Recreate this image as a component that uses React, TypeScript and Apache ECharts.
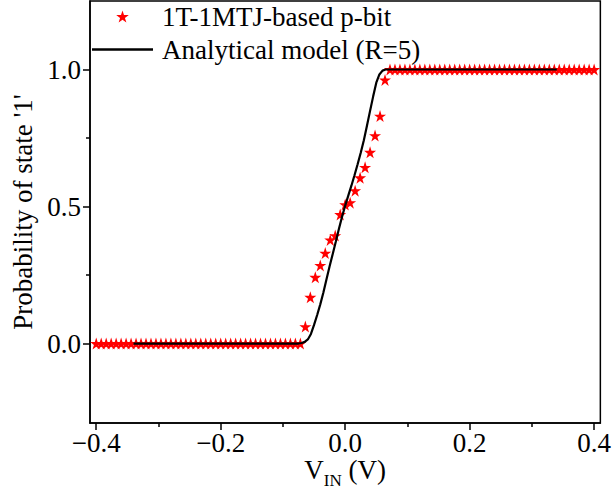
import React, { useEffect, useRef } from "react";
import * as echarts from "echarts";

// Simulated 1T-1MTJ p-bit data (V_IN in volts, probability of state '1')
const vIn = [
  -0.4, -0.392, -0.384, -0.376, -0.368, -0.36, -0.352, -0.344, -0.336, -0.328,
  -0.32, -0.312, -0.304, -0.296, -0.288, -0.28, -0.272, -0.264, -0.256, -0.248,
  -0.24, -0.232, -0.224, -0.216, -0.208, -0.2, -0.192, -0.184, -0.176, -0.168,
  -0.16, -0.152, -0.144, -0.136, -0.128, -0.12, -0.112, -0.104, -0.096, -0.088,
  -0.08, -0.072, -0.064, -0.056, -0.048, -0.04, -0.032, -0.024, -0.016, -0.008,
  0, 0.008, 0.016, 0.024, 0.032, 0.04, 0.048, 0.056, 0.064, 0.072,
  0.08, 0.088, 0.096, 0.104, 0.112, 0.12, 0.128, 0.136, 0.144, 0.152,
  0.16, 0.168, 0.176, 0.184, 0.192, 0.2, 0.208, 0.216, 0.224, 0.232,
  0.24, 0.248, 0.256, 0.264, 0.272, 0.28, 0.288, 0.296, 0.304, 0.312,
  0.32, 0.328, 0.336, 0.344, 0.352, 0.36, 0.368, 0.376, 0.384, 0.392,
  0.4,
];
const pBit = [
  0, 0, 0, 0, 0, 0, 0, 0, 0, 0,
  0, 0, 0, 0, 0, 0, 0, 0, 0, 0,
  0, 0, 0, 0, 0, 0, 0, 0, 0, 0,
  0, 0, 0, 0, 0, 0, 0, 0, 0, 0,
  0, 0, 0.062, 0.169, 0.242, 0.285, 0.33, 0.378, 0.394, 0.471,
  0.507, 0.514, 0.558, 0.605, 0.643, 0.698, 0.759, 0.83, 0.962, 1,
  1, 1, 1, 1, 1, 1, 1, 1, 1, 1,
  1, 1, 1, 1, 1, 1, 1, 1, 1, 1,
  1, 1, 1, 1, 1, 1, 1, 1, 1, 1,
  1, 1, 1, 1, 1, 1, 1, 1, 1, 1,
  1,
];

// Analytical model (R=5)
const vModel = [
  -0.34, -0.08, -0.075, -0.07, -0.065, -0.06, -0.055, -0.05, -0.045, -0.04,
  -0.035, -0.03, -0.025, -0.02, -0.015, -0.01, -0.005, 0, 0.005, 0.01,
  0.015, 0.02, 0.025, 0.03, 0.035, 0.04, 0.045, 0.05, 0.055, 0.06,
  0.065, 0.07, 0.34,
];
const pModel = [
  0, 0, 0, 0.002, 0.006, 0.015, 0.035, 0.068, 0.104, 0.143,
  0.186, 0.235, 0.282, 0.327, 0.372, 0.419, 0.463, 0.503, 0.54, 0.576,
  0.614, 0.654, 0.696, 0.742, 0.795, 0.849, 0.902, 0.952, 0.982, 0.996,
  1, 1, 1,
];

const xMajorTicks = [-0.4, -0.2, 0, 0.2, 0.4];
const xMinorTicks = [-0.3, -0.1, 0.1, 0.3];
const yMajorTicks = [0, 0.5, 1.0];
const yMinorTicks = [0.25, 0.75];

const seriesNames = ["1T-1MTJ-based p-bit", "Analytical model (R=5)"];

const STAR =
  "path://M50,0L61.23,34.55L97.55,34.55L68.17,55.9L79.39,90.45L50,69.1L20.61,90.45L31.83,55.9L2.45,34.55L38.77,34.55Z";
const LINE_ICON = "path://M0,0L100,0L100,4L0,4Z";

const FONT = "'Liberation Serif', 'Times New Roman', serif";
const FS = 27;

function fmt(v: number) {
  return v.toFixed(1).replace("-", "\u2212");
}

export default function App() {
  const ref = useRef<HTMLDivElement>(null);
  useEffect(() => {
    const chart = echarts.init(ref.current!, null, { renderer: "svg" });
    const axisLine = { color: "#000", width: 1.5 };
    const option: any = {
      animation: false,
      backgroundColor: "#fff",
      textStyle: { fontFamily: FONT, color: "#000" },
      grid: {
        left: 90,
        right: 11,
        top: 1,
        bottom: 81,
        show: true,
        borderColor: "#000",
        borderWidth: 1.5,
        backgroundColor: "transparent",
      },
      legend: {
        orient: "vertical",
        left: 92,
        top: 0,
        padding: 0,
        itemWidth: 61,
        itemHeight: 12,
        itemGap: 0,
        selectedMode: false,
        textStyle: {
          fontFamily: FONT,
          fontSize: FS,
          color: "#000",
          lineHeight: 33,
          padding: [0, 0, 0, 4],
        },
        data: [
          { name: seriesNames[0], icon: STAR, itemStyle: { color: "#ff0000", opacity: 1 } },
          { name: seriesNames[1], icon: LINE_ICON, itemStyle: { color: "#000", opacity: 1 } },
        ],
      },
      xAxis: [
        {
          type: "value",
          min: -0.41,
          max: 0.41,
          position: "bottom",
          axisLine: { show: true, onZero: false, lineStyle: axisLine },
          axisTick: {
            show: true,
            inside: false,
            length: 7,
            customValues: xMajorTicks,
            lineStyle: axisLine,
          },
          axisLabel: {
            customValues: xMajorTicks,
            formatter: fmt,
            fontFamily: FONT,
            fontSize: FS,
            color: "#000",
            margin: 6,
          },
          splitLine: { show: false },
          name: "{v|V}{s|IN}{v| (V)}",
          nameLocation: "middle",
          nameGap: 32,
          nameMoveOverlap: false,
          nameTextStyle: {
            rich: {
              v: { fontFamily: FONT, fontSize: FS, color: "#000", lineHeight: 30 },
              s: {
                fontFamily: FONT,
                fontSize: 17,
                color: "#000",
                lineHeight: 17,
                verticalAlign: "bottom",
                padding: [0, 0, -4, 0],
              },
            },
          },
        },
        {
          type: "value",
          min: -0.41,
          max: 0.41,
          position: "bottom",
          axisLine: { show: false, onZero: false },
          axisTick: {
            show: true,
            inside: false,
            length: 4,
            customValues: xMinorTicks,
            lineStyle: axisLine,
          },
          axisLabel: { show: false },
          splitLine: { show: false },
        },
      ],
      yAxis: [
        {
          type: "value",
          min: -0.29,
          max: 1.25,
          position: "left",
          axisLine: { show: true, onZero: false, lineStyle: axisLine },
          axisTick: {
            show: true,
            inside: false,
            length: 7,
            customValues: yMajorTicks,
            lineStyle: axisLine,
          },
          axisLabel: {
            customValues: yMajorTicks,
            formatter: fmt,
            fontFamily: FONT,
            fontSize: FS,
            color: "#000",
            margin: 9,
          },
          splitLine: { show: false },
          name: "Probability of state '1'",
          nameLocation: "middle",
          nameGap: 46,
          nameTextStyle: { fontFamily: FONT, fontSize: FS, color: "#000" },
        },
        {
          type: "value",
          min: -0.29,
          max: 1.25,
          position: "left",
          axisLine: { show: false, onZero: false },
          axisTick: {
            show: true,
            inside: false,
            length: 4,
            customValues: yMinorTicks,
            lineStyle: axisLine,
          },
          axisLabel: { show: false },
          splitLine: { show: false },
        },
      ],
      series: [
        {
          name: seriesNames[0],
          type: "scatter",
          xAxisIndex: 0,
          yAxisIndex: 0,
          symbol: STAR,
          symbolSize: 12,
          itemStyle: { color: "#ff0000", opacity: 1 },
          data: vIn.map((v, i) => [v, pBit[i]]),
          z: 2,
        },
        {
          name: seriesNames[1],
          type: "line",
          xAxisIndex: 0,
          yAxisIndex: 0,
          symbol: "none",
          showSymbol: false,
          lineStyle: { color: "#000", width: 2.2 },
          itemStyle: { color: "#000" },
          data: vModel.map((v, i) => [v, pModel[i]]),
          z: 3,
        },
      ],
    };
    chart.setOption(option);
    return () => chart.dispose();
  }, []);
  return (
    <div
      ref={ref}
      style={{ position: "absolute", left: 0, top: 0, width: 614, height: 504 }}
    />
  );
}
